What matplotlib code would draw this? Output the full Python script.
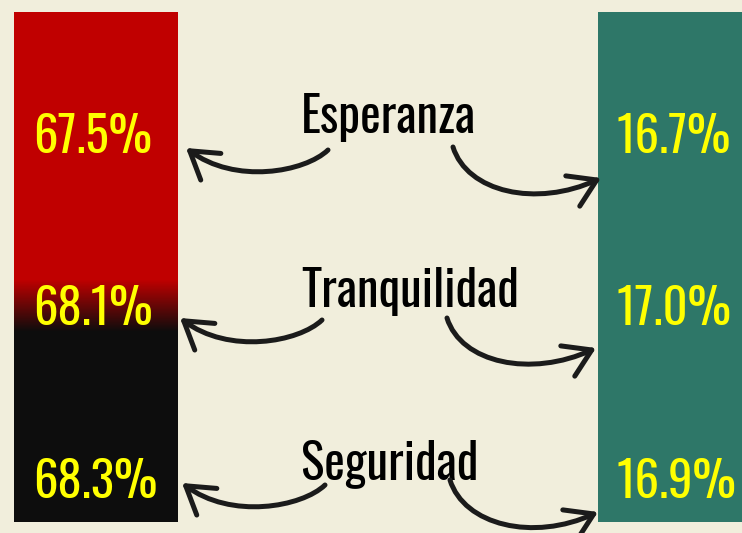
import matplotlib
matplotlib.use("Agg")
import matplotlib.pyplot as plt
import numpy as np
from matplotlib.patches import FancyArrowPatch
from matplotlib.path import Path
from matplotlib.colors import to_rgb
from matplotlib import font_manager

categories = ["Esperanza", "Tranquilidad", "Seguridad"]
left_values = [67.5, 68.1, 68.3]
right_values = [16.7, 17.0, 16.9]

names = {f.name for f in font_manager.fontManager.ttflist}
FONT = "Oswald" if "Oswald" in names else "DejaVu Sans"

BG = "#f1eedc"
RED = "#c00000"
BLACK = "#0d0d0d"
TEAL = "#2e7768"
YELLOW = "#ffff00"
INK = "#1b1b1b"

W, H = 742, 533
fig = plt.figure(figsize=(W / 100, H / 100), dpi=100)
fig.patch.set_facecolor(BG)
ax = fig.add_axes([0, 0, 1, 1])
ax.set_xlim(0, W)
ax.set_ylim(H, 0)
ax.axis("off")
ax.set_facecolor(BG)

top, bottom = 12, 522
lb = ax.bar([96], [bottom - top], bottom=[top], width=164, color=RED, linewidth=0)[0]
rows = np.arange(top, bottom)
t = np.clip((rows - 279) / (331 - 279), 0, 1)
c1, c2 = np.array(to_rgb(RED)), np.array(to_rgb(BLACK))
grad = (c1[None, :] * (1 - t[:, None]) + c2[None, :] * t[:, None])[:, None, :]
im = ax.imshow(grad, extent=(14, 178, bottom, top), aspect="auto", zorder=2)
im.set_clip_path(lb)

ax.bar([670], [bottom - top], bottom=[top], width=144, color=TEAL, linewidth=0, zorder=2)

num_base = [153, 325, 498]
lab_base = [133, 307, 479]
left_arrows = [((328, 150), (186, 148)), ((322, 320), (180, 318)), ((325, 485), (182, 483))]
right_arrows = [((453, 147), (601, 178)), ((447, 318), (596, 348)), ((450, 480), (598, 512))]


def curve(p0, p3, d1, d2):
    p1 = (p0[0] + d1[0], p0[1] + d1[1])
    p2 = (p3[0] + d2[0], p3[1] + d2[1])
    return Path([p0, p1, p2, p3], [Path.MOVETO, Path.CURVE4, Path.CURVE4, Path.CURVE4])


def draw_arrow(path):
    a = FancyArrowPatch(path=path, arrowstyle="->,head_length=0.95,head_width=0.6",
                        mutation_scale=20, color=INK, linewidth=3.6,
                        capstyle="round", joinstyle="round", zorder=6)
    ax.add_patch(a)


for i, cat in enumerate(categories):
    ax.text(33, num_base[i], f"{left_values[i]:.1f}%", color=YELLOW, fontsize=35,
            family=FONT, ha="left", va="baseline", zorder=5)
    ax.text(616, num_base[i], f"{right_values[i]:.1f}%", color=YELLOW, fontsize=35,
            family=FONT, ha="left", va="baseline", zorder=5)
    ax.text(301, lab_base[i], cat, color="black", fontsize=35.3, family=FONT,
            ha="left", va="baseline", zorder=5)

    s, e = left_arrows[i]
    draw_arrow(curve(s, e, (-23, 22), (49, 37)))
    s, e = right_arrows[i]
    draw_arrow(curve(s, e, (14, 45), (-65, 30)))

fig.savefig("out.png", dpi=100, facecolor=BG)
